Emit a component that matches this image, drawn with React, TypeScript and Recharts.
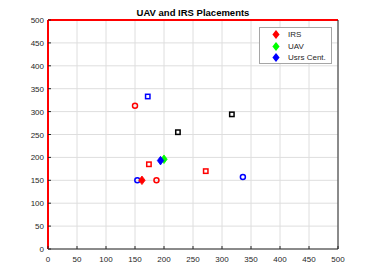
import { ScatterChart, Scatter, XAxis, YAxis, CartesianGrid } from "recharts";

const axisTicks = [0, 50, 100, 150, 200, 250, 300, 350, 400, 450, 500];

const irsPos = [{ x: 162, y: 150 }];
const uavPos = [{ x: 200, y: 196 }];
const usersCentroid = [{ x: 194, y: 193 }];
const redCircles = [{ x: 150, y: 313 }, { x: 187, y: 150 }];
const blueCircles = [{ x: 154, y: 150 }, { x: 336, y: 157 }];
const redSquares = [{ x: 174, y: 185 }, { x: 272, y: 170 }];
const blueSquares = [{ x: 172, y: 333 }];
const blackSquares = [{ x: 224, y: 255 }, { x: 317, y: 294 }];

const legendItems = [
  { name: "IRS", color: "#ff0000" },
  { name: "UAV", color: "#00ff00" },
  { name: "Usrs Cent.", color: "#0000ff" },
];

const FONT = "'Liberation Sans', Arial, sans-serif";
const INK = "#262626";

const circle = (color: string) => (p: any) => (
  <circle cx={p.cx} cy={p.cy} r={2.5} fill="none" stroke={color} strokeWidth={1.5} />
);
const square = (color: string) => (p: any) => (
  <rect x={p.cx - 2.2} y={p.cy - 2.2} width={4.4} height={4.4} fill="none" stroke={color} strokeWidth={1.5} />
);
const diamond = (color: string) => (p: any) => (
  <polygon
    points={`${p.cx},${p.cy - 4.3} ${p.cx + 3.2},${p.cy} ${p.cx},${p.cy + 4.3} ${p.cx - 3.2},${p.cy}`}
    fill={color}
    stroke={color}
    strokeWidth={0.8}
  />
);

const BottomTick = ({ x, y, payload }: any) => (
  <g>
    <line x1={x} x2={x} y1={y} y2={y - 3} stroke={INK} />
    <text x={x} y={y + 13} textAnchor="middle" fontSize={8} fill={INK} fontFamily={FONT}>
      {payload.value}
    </text>
  </g>
);
const TopTick = ({ x, y }: any) => <line x1={x} x2={x} y1={y} y2={y + 3} stroke={INK} />;
const LeftTick = ({ x, y, payload }: any) => (
  <g>
    <line x1={x} x2={x + 3} y1={y} y2={y} stroke={INK} />
    <text x={x - 4} y={y + 3} textAnchor="end" fontSize={8} fill={INK} fontFamily={FONT}>
      {payload.value}
    </text>
  </g>
);
const RightTick = ({ x, y }: any) => <line x1={x} x2={x - 3} y1={y} y2={y} stroke={INK} />;

function LegendBox() {
  return (
    <div
      style={{
        position: "absolute",
        left: 259,
        top: 27,
        width: 73,
        height: 37,
        background: "#fff",
        border: "1px solid #a6a6a6",
        boxSizing: "border-box",
        fontFamily: FONT,
        fontSize: 8,
        color: INK,
        paddingTop: 1,
      }}
    >
      {legendItems.map((it) => (
        <div key={it.name} style={{ display: "flex", alignItems: "center", height: 11.5 }}>
          <svg width={28} height={11}>
            <polygon points="16,1 19.6,5.5 16,10 12.4,5.5" fill={it.color} />
          </svg>
          <span>{it.name}</span>
        </div>
      ))}
    </div>
  );
}

export default function App() {
  return (
    <div style={{ position: "relative", width: 374, height: 280, background: "#fff" }}>
      <style>{`body{margin:0}`}</style>
      <div
        style={{
          position: "absolute",
          left: 48,
          width: 290,
          top: 7,
          textAlign: "center",
          fontFamily: FONT,
          fontWeight: "bold",
          fontSize: 9.5,
          color: "#000",
        }}
      >
        UAV and IRS Placements
      </div>
      <ScatterChart width={374} height={280} margin={{ top: 19, right: 35, bottom: 0, left: 0 }}>
        <CartesianGrid stroke="#dedede" strokeWidth={1} />
        <XAxis
          type="number"
          dataKey="x"
          domain={[0, 500]}
          ticks={axisTicks}
          interval={0}
          height={31}
          axisLine={{ stroke: INK }}
          tickLine={false}
          tickSize={0}
          tickMargin={0}
          tick={<BottomTick />}
        />
        <XAxis
          xAxisId="top"
          orientation="top"
          type="number"
          dataKey="x"
          domain={[0, 500]}
          ticks={axisTicks}
          interval={0}
          height={1}
          axisLine={{ stroke: "#ff0000", strokeWidth: 2 }}
          tickLine={false}
          tickSize={0}
          tickMargin={0}
          tick={<TopTick />}
        />
        <YAxis
          type="number"
          dataKey="y"
          domain={[0, 500]}
          ticks={axisTicks}
          interval={0}
          width={48}
          axisLine={{ stroke: "#ff0000", strokeWidth: 2 }}
          tickLine={false}
          tickSize={0}
          tickMargin={0}
          tick={<LeftTick />}
        />
        <YAxis
          yAxisId="right"
          orientation="right"
          type="number"
          dataKey="y"
          domain={[0, 500]}
          ticks={axisTicks}
          interval={0}
          width={1}
          axisLine={{ stroke: INK }}
          tickLine={false}
          tickSize={0}
          tickMargin={0}
          tick={<RightTick />}
        />
        <Scatter data={[]} xAxisId="top" yAxisId="right" isAnimationActive={false} />
        <Scatter data={redCircles} shape={circle("#ff0000")} isAnimationActive={false} />
        <Scatter data={blueCircles} shape={circle("#0000ff")} isAnimationActive={false} />
        <Scatter data={redSquares} shape={square("#ff0000")} isAnimationActive={false} />
        <Scatter data={blueSquares} shape={square("#0000ff")} isAnimationActive={false} />
        <Scatter data={blackSquares} shape={square("#000000")} isAnimationActive={false} />
        <Scatter name="IRS" data={irsPos} shape={diamond("#ff0000")} isAnimationActive={false} />
        <Scatter name="UAV" data={uavPos} shape={diamond("#00ff00")} isAnimationActive={false} />
        <Scatter name="Usrs Cent." data={usersCentroid} shape={diamond("#0000ff")} isAnimationActive={false} />
      </ScatterChart>
      <LegendBox />
    </div>
  );
}
